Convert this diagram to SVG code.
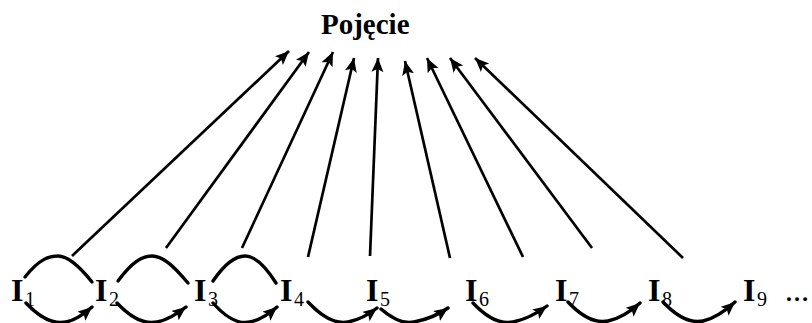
<svg xmlns="http://www.w3.org/2000/svg" width="812" height="323" viewBox="0 0 812 323">
<defs>
<style>
.t{font-family:"Liberation Serif","Times New Roman",serif;font-weight:bold;fill:#000}
.sub{font-family:"Liberation Serif","Times New Roman",serif;font-weight:normal;font-size:20px;fill:#000}
.big{font-size:32px}
.ln{stroke:#000;stroke-width:2.7;fill:none}
.arc{stroke:#000;stroke-width:3.4;fill:none;stroke-linecap:round}
</style>
<marker id="ah" markerUnits="userSpaceOnUse" markerWidth="16" markerHeight="14" refX="14" refY="6" orient="auto">
<path d="M0,0 L14,6 L0,12 L3,6 Z" fill="#000"/>
</marker>
</defs>
<rect width="812" height="323" fill="#fff"/>
<g id="pojecie"><text class="t" x="321" y="34" font-size="29">Pojęcie</text></g>
<g id="I1"><text class="t big" x="11" y="301">I</text><text class="sub" x="25" y="306">1</text></g>
<g id="I2"><text class="t big" x="95" y="301">I</text><text class="sub" x="109" y="306">2</text></g>
<g id="I3"><text class="t big" x="194" y="301">I</text><text class="sub" x="208" y="306">3</text></g>
<g id="I4"><text class="t big" x="280" y="301">I</text><text class="sub" x="294" y="306">4</text></g>
<g id="I5"><text class="t big" x="366" y="301">I</text><text class="sub" x="380" y="306">5</text></g>
<g id="I6"><text class="t big" x="465" y="301">I</text><text class="sub" x="479" y="306">6</text></g>
<g id="I7"><text class="t big" x="555" y="301">I</text><text class="sub" x="569" y="306">7</text></g>
<g id="I8"><text class="t big" x="648" y="301">I</text><text class="sub" x="662" y="306">8</text></g>
<g id="I9"><text class="t big" x="743" y="301">I</text><text class="sub" x="757" y="306">9</text><text class="t" x="785" y="301" font-size="24">…</text></g>
<g id="connectors">
<path class="ln" marker-end="url(#ah)" d="M72,256 L289,51"/>
<path class="ln" marker-end="url(#ah)" d="M166,248 L309,52"/>
<path class="ln" marker-end="url(#ah)" d="M242,248 L333,52"/>
<path class="ln" marker-end="url(#ah)" d="M308,257 L354,58"/>
<path class="ln" marker-end="url(#ah)" d="M370,256 L378,58"/>
<path class="ln" marker-end="url(#ah)" d="M450,258 L405,61"/>
<path class="ln" marker-end="url(#ah)" d="M523,257 L427,58"/>
<path class="ln" marker-end="url(#ah)" d="M592,248 L450,58"/>
<path class="ln" marker-end="url(#ah)" d="M683,258 L475,58"/>
<path class="arc" d="M25,277 C40,258 50,256 58,256 C66,256 76,262 92,282"/>
<path class="arc" d="M118,281 C132,262 142,256 152,256 C162,256 172,264 188,283"/>
<path class="arc" d="M213,281 C226,262 236,256 245,256 C254,256 264,264 276,283"/>
<path class="arc" marker-end="url(#ah)" d="M26,303 C42,320 56,324 66,322 C76,320 84,314 92,307"/>
<path class="arc" marker-end="url(#ah)" d="M117,303 C133,320 147,324 157,322 C167,320 177,314 186,307"/>
<path class="arc" marker-end="url(#ah)" d="M213,303 C228,320 241,324 250,322 C260,320 269,314 277,307"/>
<path class="arc" marker-end="url(#ah)" d="M308,302 C324,319 338,324 348,322 C358,320 368,315 377,308"/>
<path class="arc" marker-end="url(#ah)" d="M381,309 C395,321 405,324 414,322 C424,320 438,315 448,308"/>
<path class="arc" marker-end="url(#ah)" d="M473,303 C489,320 503,324 513,322 C523,320 536,314 547,306"/>
<path class="arc" marker-end="url(#ah)" d="M568,302 C584,319 598,323 608,321 C618,319 630,312 640,303"/>
<path class="arc" marker-end="url(#ah)" d="M663,302 C679,319 693,323 703,321 C713,319 725,311 735,302"/>
</g>
</svg>
